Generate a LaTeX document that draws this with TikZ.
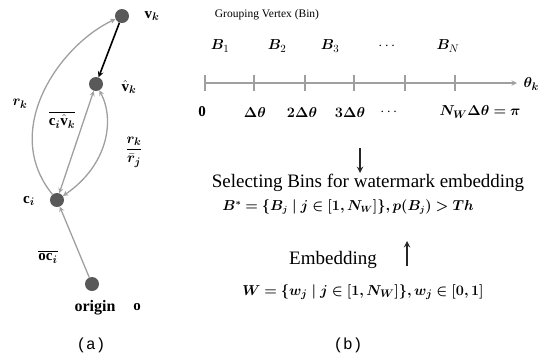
\documentclass[tikz,border=0pt]{standalone}
\usepackage{fontspec}
\setmainfont{Liberation Serif}
\setmonofont{Liberation Mono}
\usepackage{amsmath,amssymb}
\usepackage{bm}
\begin{document}
\begin{tikzpicture}[x=1pt, y=1pt, >=stealth,
    vtx/.style={circle, fill=black!65, inner sep=0pt, minimum size=14pt},
    link/.style={gray!75, line width=1.3pt},
    axisline/.style={gray!75, line width=1.4pt},
    tickmark/.style={gray!75, line width=1.2pt},
    flow/.style={->, black!85, line width=1.8pt},
    lbl/.style={font=\fontsize{15}{17}\selectfont},
    ttl/.style={font=\fontsize{11.5}{13}\selectfont},
    bigtxt/.style={font=\fontsize{19}{21}\selectfont},
    captxt/.style={font=\ttfamily\fontsize{16}{18}\selectfont}]
    % frame of the picture
    \useasboundingbox (0,0) rectangle (551,-360);

    % (a) vertices
    \node[vtx] (vk) at (122,-16) {};
    \node[vtx] (vh) at (96,-84) {};
    \node[vtx] (ci) at (57,-200) {};
    \node[vtx] (org) at (92,-284) {};

    % (a) labels
    \node[lbl] (vkl) at (152,-16) {$\mathbf{v}_{\bm{k}}$};
    \node[lbl] (vhl) at (129,-87) {$\hat{\mathbf{v}}_{\bm{k}}$};
    \node[lbl] (cil) at (29,-201) {$\mathbf{c}_{\bm{i}}$};
    \node[lbl] (rkl) at (20,-104) {$\bm{r_k}$};
    \node[lbl] (cvl) at (62,-120) {$\overline{\mathbf{c}_{\bm{i}}\hat{\mathbf{v}}_{\bm{k}}}$};
    \node[lbl] (rrl) at (134,-152) {$\dfrac{\bm{r_k}}{\bm{\bar{r}_j}}$};
    \node[lbl] (ocl) at (48,-257) {$\overline{\mathbf{oc}_{\bm{i}}}$};
    \node[lbl, font=\bfseries\fontsize{16}{18}\selectfont] (orl) at (95,-308) {origin};
    \node[lbl] (ol) at (137,-307) {$\mathbf{o}$};

    % (a) connectors
    \draw[link, ->] (ci) .. controls (0,-130) and (60,-45) .. (vk);
    \draw[link, <->] (ci) -- (vh);
    \draw[link, <->] (vh) .. controls (115,-120) and (108,-165) .. (ci);
    \draw[link, ->] (org) -- (ci);
    \draw[->, black, line width=1.6pt] (vk) -- (vh);

    % (b) grouping of vertices into bins
    \node[ttl] (grp) at (267,-15) {Grouping Vertex (Bin)};
    \node[lbl] (b1) at (220,-46) {$\bm{B}_1$};
    \node[lbl] (b2) at (277,-46) {$\bm{B}_2$};
    \node[lbl] (b3) at (330,-46) {$\bm{B}_3$};
    \node[lbl] (bd) at (388,-46) {$\cdots$};
    \node[lbl] (bn) at (448,-46) {$\bm{B}_N$};

    % angle axis
    \coordinate (ax0) at (205,-83);
    \coordinate (ax1) at (517,-83);
    \draw[axisline, ->] (ax0) -- (ax1);
    \node[lbl, anchor=west] (thk) at (520,-84) {$\bm{\theta_k}$};
    \foreach \x in {205,254,305,354,405,455}
        \draw[tickmark] (\x,-75) -- (\x,-91);

    \node[lbl] (t0) at (202,-112) {$\mathbf{0}$};
    \node[lbl] (t1) at (255,-112) {$\bm{\Delta\theta}$};
    \node[lbl] (t2) at (302,-112) {$\bm{2\Delta\theta}$};
    \node[lbl] (t3) at (350,-112) {$\bm{3\Delta\theta}$};
    \node[lbl] (td) at (390,-112) {$\cdots$};
    \node[lbl] (tn) at (480,-112) {$\bm{N_W\Delta\theta = \pi}$};

    % selection and embedding
    \coordinate (dn0) at (360,-148);
    \coordinate (dn1) at (360,-173);
    \draw[flow] (dn0) -- (dn1);
    \node[bigtxt] (sel) at (368,-183) {Selecting Bins for watermark embedding};
    \node[lbl, font=\fontsize{13.5}{15}\selectfont] (bst) at (348,-207) {$\bm{B^* = \{B_j \mid j \in [1,N_W]\}, p(B_j) > Th}$};

    \node[bigtxt] (emb) at (333,-260) {Embedding};
    \coordinate (up0) at (407,-266);
    \coordinate (up1) at (407,-241);
    \draw[flow] (up0) -- (up1);
    \node[lbl, font=\fontsize{15}{17}\selectfont] (wst) at (363,-292) {$\bm{W = \{w_j \mid j \in [1,N_W]\}, w_j \in [0,1]}$};

    % captions
    \node[captxt] (capa) at (91,-345) {(a)};
    \node[captxt] (capb) at (348,-345) {(b)};
\end{tikzpicture}
\end{document}
